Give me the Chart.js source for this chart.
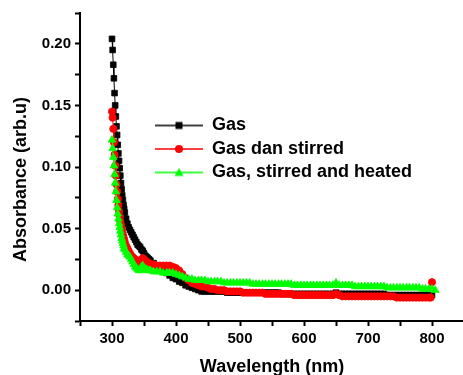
<!DOCTYPE html>
<html>
<head>
<meta charset="utf-8">
<script src="https://cdn.jsdelivr.net/npm/chart.js@4/dist/chart.umd.min.js"></script>
<style>
  html, body { margin: 0; padding: 0; background: #fff; overflow: hidden; }
  #wrap { position: relative; width: 470px; height: 392px; }
</style>
</head>
<body>
<div id="wrap"><canvas id="c"></canvas></div>
<script>
// ---- data ----
const seriesNames = ['Gas', 'Gas dan stirred', 'Gas, stirred and heated'];

const wavelengths = [
  300,301,302,303,304,305,306,307,308,309,310,311,312,313,314,315,316,317,318,319,320,
  322,324,326,328,330,332,334,336,338,340,342,344,346,348,350,352,354,356,358,360,
  365,370,375,380,385,390,395,400,405,410,415,420,425,430,435,440,445,450,
  455,460,465,470,475,480,485,490,495,500,
  505,510,515,520,525,530,535,540,545,550,
  555,560,565,570,575,580,585,590,595,600,
  605,610,615,620,625,630,635,640,645,650,
  655,660,665,670,675,680,685,690,695,700,
  705,710,715,720,725,730,735,740,745,750,
  755,760,765,770,775,780,785,790,795
];

const gasAbs = [
  0.204,0.195,0.183,0.172,0.160,0.150,0.141,0.133,0.126,0.118,0.111,0.105,0.099,0.093,0.087,0.082,0.077,0.073,0.069,0.066,0.063,
  0.058,0.054,0.051,0.049,0.047,0.045,0.043,0.041,0.039,0.037,0.036,0.035,0.033,0.032,0.030,0.028,0.027,0.026,0.025,0.024,
  0.022,0.020,0.018,0.016,0.014,0.012,0.010,0.009,0.007,0.006,0.004,0.003,0.002,0.001,0.000,-0.001,-0.001,-0.001,
  -0.001,-0.001,-0.001,-0.001,-0.001,-0.002,-0.002,-0.002,-0.002,-0.002,
  -0.002,-0.002,-0.002,-0.002,-0.002,-0.002,-0.002,-0.002,-0.002,-0.002,
  -0.002,-0.002,-0.003,-0.003,-0.003,-0.003,-0.003,-0.003,-0.003,-0.003,
  -0.003,-0.003,-0.003,-0.003,-0.003,-0.003,-0.003,-0.003,-0.003,-0.002,
  -0.003,-0.003,-0.003,-0.003,-0.003,-0.003,-0.003,-0.003,-0.003,-0.003,
  -0.003,-0.003,-0.003,-0.003,-0.003,-0.004,-0.004,-0.004,-0.004,-0.004,
  -0.004,-0.004,-0.004,-0.004,-0.004,-0.004,-0.004,-0.004,-0.004
];
const gasTailX = [800];
const gasTailY = [-0.004];

const stirredAbs = [
  0.145,0.140,0.131,0.120,0.110,0.101,0.093,0.086,0.080,0.074,0.069,0.064,0.060,0.056,0.053,0.050,0.047,0.045,0.043,0.041,0.039,
  0.036,0.034,0.032,0.030,0.028,0.027,0.026,0.025,0.024,0.023,0.022,0.022,0.025,0.026,0.025,0.024,0.023,0.022,0.022,0.021,
  0.021,0.020,0.020,0.020,0.020,0.020,0.019,0.018,0.016,0.013,0.010,0.008,0.006,0.005,0.004,0.003,0.003,0.002,
  0.001,0.001,0.000,0.000,0.000,-0.001,-0.001,-0.001,-0.001,-0.001,
  -0.002,-0.002,-0.002,-0.002,-0.002,-0.002,-0.002,-0.003,-0.003,-0.003,
  -0.003,-0.003,-0.003,-0.003,-0.003,-0.003,-0.004,-0.004,-0.004,-0.004,
  -0.004,-0.004,-0.004,-0.004,-0.004,-0.004,-0.004,-0.004,-0.004,-0.003,
  -0.004,-0.005,-0.005,-0.005,-0.005,-0.005,-0.005,-0.005,-0.005,-0.005,
  -0.005,-0.005,-0.005,-0.005,-0.005,-0.005,-0.005,-0.005,-0.006,-0.006,
  -0.006,-0.006,-0.006,-0.006,-0.006,-0.006,-0.006,-0.006,-0.006
];
const stirredTailX = [798, 800];
const stirredTailY = [-0.006, 0.0065];

const heatedAbs = [
  0.122,0.115,0.108,0.101,0.094,0.087,0.080,0.073,0.067,0.062,0.058,0.054,0.051,0.048,0.045,0.042,0.040,0.038,0.036,0.034,0.033,
  0.031,0.029,0.028,0.027,0.025,0.023,0.021,0.019,0.018,0.017,0.016,0.016,0.019,0.020,0.018,0.017,0.017,0.016,0.016,0.016,
  0.015,0.015,0.015,0.014,0.014,0.014,0.014,0.013,0.012,0.011,0.010,0.009,0.009,0.008,0.008,0.008,0.008,0.007,
  0.007,0.007,0.007,0.007,0.006,0.006,0.006,0.006,0.006,0.006,
  0.006,0.006,0.006,0.005,0.005,0.005,0.005,0.005,0.005,0.005,
  0.005,0.005,0.005,0.005,0.005,0.005,0.004,0.004,0.004,0.004,
  0.004,0.004,0.004,0.004,0.004,0.004,0.004,0.004,0.004,0.006,
  0.004,0.004,0.004,0.004,0.004,0.003,0.003,0.003,0.003,0.003,
  0.003,0.003,0.003,0.003,0.003,0.002,0.002,0.002,0.002,0.002,
  0.002,0.002,0.002,0.002,0.002,0.002,0.001,0.001,0.001
];
const heatedTailX = [800, 805];
const heatedTailY = [0.001, 0.000];

const xTickLabels = ['300', '400', '500', '600', '700', '800'];
const yTickLabels = ['0.00', '0.05', '0.10', '0.15', '0.20'];

// ---- build datasets ----
function toPoints(xs, ys, tailX, tailY) {
  const pts = xs.map((x, i) => ({ x: x, y: ys[i] }));
  tailX.forEach((x, i) => pts.push({ x: x, y: tailY[i] }));
  return pts;
}

const FONT = "'Liberation Sans', Arial, Helvetica, sans-serif";

function legendSymbol(color, style) {
  const c = document.createElement('canvas');
  c.width = 48; c.height = 12;
  const g = c.getContext('2d');
  g.strokeStyle = color; g.fillStyle = color; g.lineWidth = 1.5;
  g.beginPath(); g.moveTo(0, 6); g.lineTo(48, 6); g.stroke();
  g.beginPath();
  if (style === 'rect') { g.rect(20.5, 2.5, 7, 7); }
  else if (style === 'circle') { g.arc(24, 6, 4, 0, Math.PI * 2); }
  else { g.moveTo(24, 1.5); g.lineTo(28.5, 9.5); g.lineTo(19.5, 9.5); g.closePath(); }
  g.fill();
  return c;
}

const colors = ['#000000', '#ff0000', '#00ff00'];
const styles = ['rect', 'circle', 'triangle'];
const radii = [4.0, 3.6, 4.4];

const datasets = [
  toPoints(wavelengths, gasAbs, gasTailX, gasTailY),
  toPoints(wavelengths, stirredAbs, stirredTailX, stirredTailY),
  toPoints(wavelengths, heatedAbs, heatedTailX, heatedTailY)
].map((pts, i) => ({
  label: seriesNames[i],
  data: pts,
  borderColor: colors[i],
  backgroundColor: colors[i],
  borderWidth: 1,
  pointStyle: styles[i],
  pointRadius: radii[i],
  pointBorderWidth: 0.8,
  pointBackgroundColor: colors[i],
  pointBorderColor: colors[i],
  showLine: true,
  tension: 0,
  order: 3 - i
}));

const placeLegend = {
  id: 'placeLegend',
  afterLayout(chart) {
    const lg = chart.legend;
    if (!lg) return;
    lg.left = 149.5; lg.top = 111;
    lg.width = 300; lg.height = 120;
    lg.right = lg.left + lg.width; lg.bottom = lg.top + lg.height;
  }
};

function labelFor(list, value) {
  const hit = list.find(s => Math.abs(parseFloat(s) - value) < 1e-6);
  return hit === undefined ? '' : hit;
}

new Chart(document.getElementById('c'), {
  type: 'scatter',
  data: { datasets: datasets },
  plugins: [placeLegend],
  options: {
    responsive: true,
    maintainAspectRatio: false,
    animation: false,
    devicePixelRatio: 1,
    layout: { padding: { top: 12, right: 6, left: 0, bottom: 0 } },
    plugins: {
      tooltip: { enabled: false },
      legend: {
        position: 'chartArea',
        align: 'start',
        labels: {
          usePointStyle: true,
          pointStyleWidth: 48,
          padding: 5.5,
          color: '#000',
          font: { family: FONT, size: 18, weight: 'bold' },
          sort: (a, b) => a.datasetIndex - b.datasetIndex,
          generateLabels: (chart) => chart.data.datasets.map((ds, i) => ({
            text: ds.label,
            fillStyle: colors[i],
            strokeStyle: colors[i],
            lineWidth: 0,
            pointStyle: legendSymbol(colors[i], styles[i]),
            datasetIndex: i,
            hidden: false,
            fontColor: '#000'
          }))
        }
      }
    },
    scales: {
      x: {
        type: 'linear',
        min: 250, max: 850,
        afterFit: (s) => { s.height = 71; },
        ticks: {
          stepSize: 50,
          autoSkip: false,
          maxRotation: 0,
          padding: 4,
          color: '#000',
          font: { family: FONT, size: 15, weight: 'bold' },
          callback: (v) => labelFor(xTickLabels, v)
        },
        grid: { drawOnChartArea: false, drawTicks: true, tickLength: 5, color: '#000', tickWidth: 2 },
        border: { display: true, color: '#000', width: 2 },
        title: {
          display: true,
          text: 'Wavelength (nm)',
          color: '#000',
          font: { family: FONT, size: 18, weight: 'bold' },
          padding: { top: 0, bottom: 14 }
        }
      },
      y: {
        type: 'linear',
        min: -0.025, max: 0.225,
        afterFit: (s) => { s.width = 80; },
        ticks: {
          stepSize: 0.025,
          autoSkip: false,
          padding: 4,
          color: '#000',
          font: { family: FONT, size: 15, weight: 'bold' },
          callback: (v) => labelFor(yTickLabels, v)
        },
        grid: { drawOnChartArea: false, drawTicks: true, tickLength: 5, color: '#000', tickWidth: 2 },
        border: { display: true, color: '#000', width: 2 },
        title: {
          display: true,
          text: 'Absorbance (arb.u)     ',
          color: '#000',
          font: { family: FONT, size: 18, weight: 'bold' },
          padding: { top: 10.7, bottom: 0 }
        }
      }
    }
  }
});
</script>
</body>
</html>
